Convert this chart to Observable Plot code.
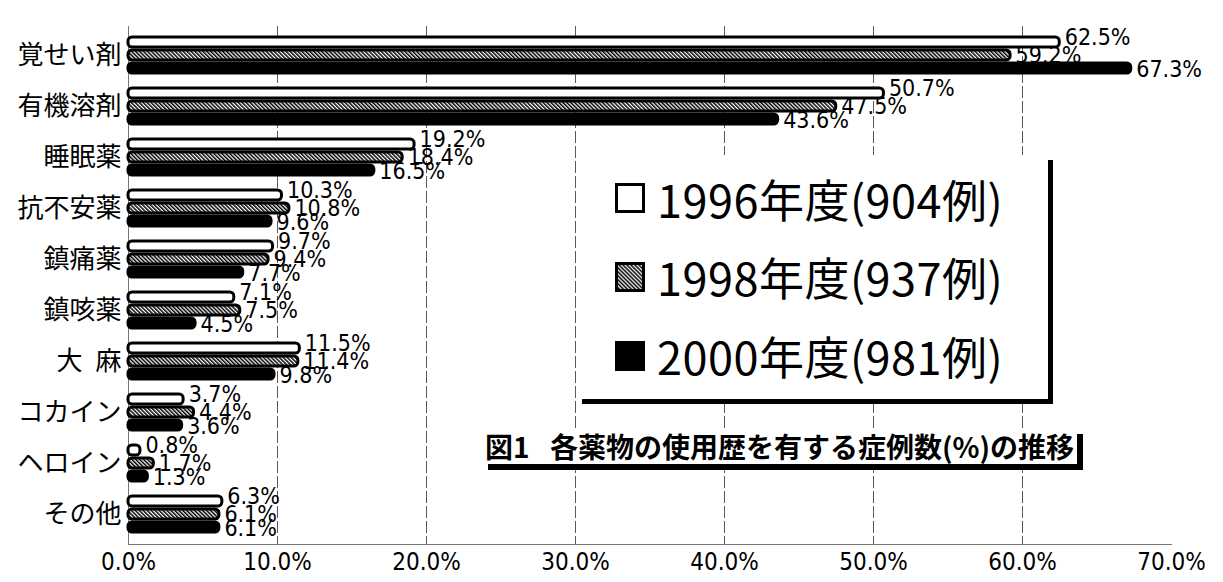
<!DOCTYPE html>
<html>
<head>
<meta charset="utf-8">
<script src="https://cdn.jsdelivr.net/npm/d3@7"></script>
<script src="https://cdn.jsdelivr.net/npm/@observablehq/plot@0.6"></script>
<style>
  html, body { margin: 0; padding: 0; background: #fff; }
  #wrap { position: relative; width: 1223px; height: 582px; overflow: hidden; }
  #legend {
    position: absolute; left: 577px; top: 155px; width: 471px; height: 244px;
    background: #fff; box-shadow: 5px 5px 0 #000;
    display: flex; flex-direction: column; justify-content: space-around;
    padding: 4px 0 4px 38px; box-sizing: border-box;
  }
  .item { display: flex; align-items: center; font-family: 'Noto Sans CJK JP',sans-serif; font-size: 45px; line-height: 1; color: #000; letter-spacing: 0.5px; }
  .item svg { margin-right: 12px; }
  #caption {
    position: absolute; left: 482px; top: 428px; background: #fff; box-shadow: 6px 6px 0 #000;
    font-family: 'Noto Sans CJK JP',sans-serif; font-weight: 700; font-size: 28px; line-height: 36px;
    padding: 0 3px; white-space: pre; color: #000;
  }
</style>
</head>
<body>
<div id="wrap"></div>
<script>
const categories = ["覚せい剤","有機溶剤","睡眠薬","抗不安薬","鎮痛薬","鎮咳薬","大\u2002麻","コカイン","ヘロイン","その他"];
const seriesLabels = ["1996年度(904例)","1998年度(937例)","2000年度(981例)"];
const v1996 = [62.5, 50.7, 19.2, 10.3, 9.7, 7.1, 11.5, 3.7, 0.8, 6.3];
const v1998 = [59.2, 47.5, 18.4, 10.8, 9.4, 7.5, 11.4, 4.4, 1.7, 6.1];
const v2000 = [67.3, 43.6, 16.5, 9.6, 7.7, 4.5, 9.8, 3.6, 1.3, 6.1];
const xTicks = [0, 10, 20, 30, 40, 50, 60, 70];
const gridTicks = [10, 20, 30, 40, 50, 60];
const captionText = "図1\u2002 各薬物の使用歴を有する症例数(%)の推移";

const NARROW = "'Liberation Sans Narrow','Arial Narrow','DejaVu Sans Condensed',sans-serif";
const CJK = "'Noto Sans CJK JP',sans-serif";

const W = 1223, H = 582, mt = 26, mb = 38, ml = 128, mr = 52;
const padIn = 0.25, padOut = 0.125;
const band = d3.scaleBand().domain(categories).range([mt, H - mb]).paddingInner(padIn).paddingOuter(padOut).bandwidth();
const sub = band / 3;

const seriesValues = [v1996, v1998, v2000];
const rows = seriesValues.map((vals, s) => categories.map((cat, i) => ({cat, value: vals[i], series: seriesLabels[s]})));

const fills = ["white", "url(#hatch)", "black"];
const labelDy = [-18, 0, 14];

const marks = [
  Plot.gridX(gridTicks, {stroke: "#222", strokeOpacity: 0.75, strokeDasharray: "12,3"}),
  Plot.ruleX([0], {stroke: "#777"}),
  Plot.frame({anchor: "bottom", stroke: "#777"})
];
rows.forEach((data, s) => {
  marks.push(Plot.barX(data, {
    x: "value", y: "cat", fill: fills[s], stroke: "black", strokeWidth: 3, rx: 4,
    insetTop: s * sub + 1, insetBottom: (2 - s) * sub + 1
  }));
});
rows.forEach((data, s) => {
  marks.push(Plot.text(data, {
    x: "value", y: "cat", text: d => d.value.toFixed(1) + "%",
    textAnchor: "start", dx: 5, dy: labelDy[s], fontSize: 23, fontFamily: NARROW, fill: "black"
  }));
});
marks.push(Plot.axisY({tickSize: 0, tickPadding: 7, fontSize: 26, fontFamily: CJK, fill: "black", label: null}));
marks.push(Plot.axisX({ticks: xTicks, tickSize: 0, tickPadding: 8, tickFormat: d => d.toFixed(1) + "%", fontSize: 24, fontFamily: NARROW, fill: "black", label: null}));

const chart = Plot.plot({
  width: W, height: H, marginTop: mt, marginBottom: mb, marginLeft: ml, marginRight: mr,
  x: {domain: [0, 70], label: null},
  y: {domain: categories, paddingInner: padIn, paddingOuter: padOut, label: null},
  style: {background: "white", color: "black"},
  marks
});

const NS = "http://www.w3.org/2000/svg";
function addPattern(svg) {
  const defs = document.createElementNS(NS, "defs");
  defs.innerHTML = '<pattern id="hatch" width="2.8" height="2.8" patternUnits="userSpaceOnUse" patternTransform="rotate(-45)">' +
    '<rect width="2.8" height="2.8" fill="white"/><rect width="1.5" height="2.8" fill="black"/></pattern>';
  svg.insertBefore(defs, svg.firstChild);
}
addPattern(chart);
const wrap = document.getElementById("wrap");
wrap.appendChild(chart);

// legend
const legend = document.createElement("div");
legend.id = "legend";
seriesLabels.forEach((lab, s) => {
  const item = document.createElement("div");
  item.className = "item";
  item.innerHTML = `<svg width="30" height="30"><rect x="1.5" y="1.5" width="27" height="27" fill="${fills[s]}" stroke="black" stroke-width="3"/></svg><span>${lab}</span>`;
  legend.appendChild(item);
});
wrap.appendChild(legend);

const cap = document.createElement("div");
cap.id = "caption";
cap.textContent = captionText;
wrap.appendChild(cap);
</script>
</body>
</html>
